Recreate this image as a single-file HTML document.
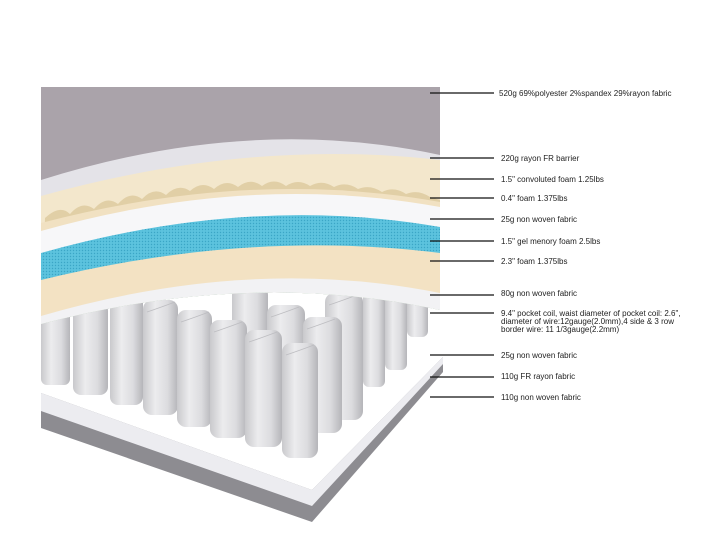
<!DOCTYPE html>
<html><head><meta charset="utf-8"><style>
html,body{margin:0;padding:0;background:#fff;}
svg{display:block;}
text{font-family:"Liberation Sans",sans-serif;font-size:8px;fill:#222;}
</style></head><body>
<svg width="713" height="551" viewBox="0 0 713 551" xmlns="http://www.w3.org/2000/svg">
<defs>
<linearGradient id="coil" x1="0" x2="1" y1="0" y2="0">
<stop offset="0" stop-color="#c9c9cc"/><stop offset="0.35" stop-color="#ececee"/><stop offset="0.7" stop-color="#dcdcdf"/><stop offset="1" stop-color="#b5b5b9"/>
</linearGradient>
<pattern id="dots" width="3" height="3" patternUnits="userSpaceOnUse">
<rect width="3" height="3" fill="#5cc3de"/><circle cx="1.5" cy="1.5" r="0.7" fill="#3aa6c6"/>
</pattern>
<clipPath id="c"><path d="M41,87 L440,87 L440,310 Q250,269 41,324 Z"/></clipPath>
</defs>

<!-- base plate -->
<polygon points="41,393 312,490 443,357 443,372 312,522 41,428" fill="#8d8c91"/>
<polygon points="41,393 312,490 443,357 443,364 312,506 41,411" fill="#ececf0"/>

<!-- coils (back to front) -->
<g>
<rect x="232" y="285" width="36" height="120" rx="10" fill="url(#coil)"/>
<rect x="407" y="290" width="21" height="47" rx="6" fill="url(#coil)"/>
<rect x="385" y="285" width="22" height="85" rx="6" fill="url(#coil)"/>
<rect x="363" y="285" width="22" height="102" rx="6" fill="url(#coil)"/>
<rect x="41" y="310" width="29" height="75" rx="6" fill="url(#coil)"/>
<rect x="73" y="303" width="35" height="92" rx="8" fill="url(#coil)"/>
<rect x="110" y="290" width="33" height="115" rx="8" fill="url(#coil)"/>
<rect x="325" y="293" width="38" height="127" rx="9" fill="url(#coil)"/>
<rect x="143" y="300" width="35" height="115" rx="9" fill="url(#coil)"/>
<rect x="177" y="310" width="35" height="117" rx="9" fill="url(#coil)"/>
<rect x="267" y="305" width="38" height="128" rx="9" fill="url(#coil)"/>
<rect x="303" y="317" width="39" height="116" rx="9" fill="url(#coil)"/>
<rect x="210" y="320" width="37" height="118" rx="9" fill="url(#coil)"/>
<rect x="245" y="330" width="37" height="117" rx="9" fill="url(#coil)"/>
<rect x="282" y="343" width="36" height="115" rx="9" fill="url(#coil)"/>
</g>
<g stroke="#bdbdc1" stroke-width="0.8" fill="none">
<path d="M147,312 q12,-4 28,-10 M181,322 q12,-4 28,-10 M214,332 q12,-4 28,-10 M249,342 q12,-4 28,-10 M286,355 q12,-4 28,-10 M271,317 q12,-4 28,-10 M307,329 q12,-4 28,-10 M329,305 q12,-4 28,-10"/>
</g>

<!-- layers -->
<g clip-path="url(#c)">
<rect x="41" y="87" width="400" height="250" fill="#aaa3aa"/>
<path d="M41,180 Q250,114 440,155 L440,340 L41,340Z" fill="#e4e3e8"/>
<path d="M41,196 Q250,138 440,160 L440,340 L41,340Z" fill="#f3e7cc"/>
<path d="M45,218 Q60,204 70,214 Q82,200 94,209 Q106,195 118,204 Q130,190 142,199 Q154,186 166,195 Q178,183 190,191 Q202,180 214,189 Q226,178 238,187 Q250,177 262,186 Q274,177 286,186 Q298,178 310,186 Q322,179 334,187 Q346,181 358,189 Q370,184 382,192 Q394,186 406,194 Q418,189 430,197 L440,200 L440,340 L41,340Z" fill="#e1cfa6"/>
<path d="M41,223 Q250,168 440,202 L440,340 L41,340Z" fill="#f1e1c2"/>
<path d="M41,231 Q250,172 440,207 L440,340 L41,340Z" fill="#f7f7f9"/>
<path d="M41,253 Q250,194 440,227 L440,340 L41,340Z" fill="url(#dots)"/>
<path d="M41,280 Q250,229 440,253 L440,340 L41,340Z" fill="#f3e2c3"/>
<path d="M41,316 Q250,255 440,293 L440,340 L41,340Z" fill="#f2f2f4"/>
</g>

<!-- leader lines -->
<g stroke="#111" stroke-width="1.2">
<line x1="430" y1="93" x2="494" y2="93"/>
<line x1="430" y1="158" x2="494" y2="158"/>
<line x1="430" y1="179" x2="494" y2="179"/>
<line x1="430" y1="198" x2="494" y2="198"/>
<line x1="430" y1="219" x2="494" y2="219"/>
<line x1="430" y1="241" x2="494" y2="241"/>
<line x1="430" y1="261" x2="494" y2="261"/>
<line x1="430" y1="295" x2="494" y2="295"/>
<line x1="430" y1="313" x2="494" y2="313"/>
<line x1="430" y1="355" x2="494" y2="355"/>
<line x1="430" y1="377" x2="494" y2="377"/>
<line x1="430" y1="397" x2="494" y2="397"/>
</g>
<text x="499" y="96">520g  69%polyester 2%spandex 29%rayon fabric</text>
<text x="501" y="161">220g rayon FR barrier</text>
<text x="501" y="182">1.5" convoluted foam 1.25lbs</text>
<text x="501" y="201">0.4" foam  1.375lbs</text>
<text x="501" y="222">25g non woven fabric</text>
<text x="501" y="244">1.5" gel menory foam 2.5lbs</text>
<text x="501" y="264">2.3"  foam 1.375lbs</text>
<text x="501" y="296">80g non woven fabric</text>
<text x="501" y="316">9.4" pocket coil, waist diameter of  pocket coil:  2.6",</text>
<text x="501" y="324">diameter of wire:12gauge(2.0mm),4 side &amp; 3 row</text>
<text x="501" y="332">border wire: 11 1/3gauge(2.2mm)</text>
<text x="501" y="358">25g non woven fabric</text>
<text x="501" y="379">110g  FR rayon fabric</text>
<text x="501" y="400">110g  non woven fabric</text>
</svg>
</body></html>
